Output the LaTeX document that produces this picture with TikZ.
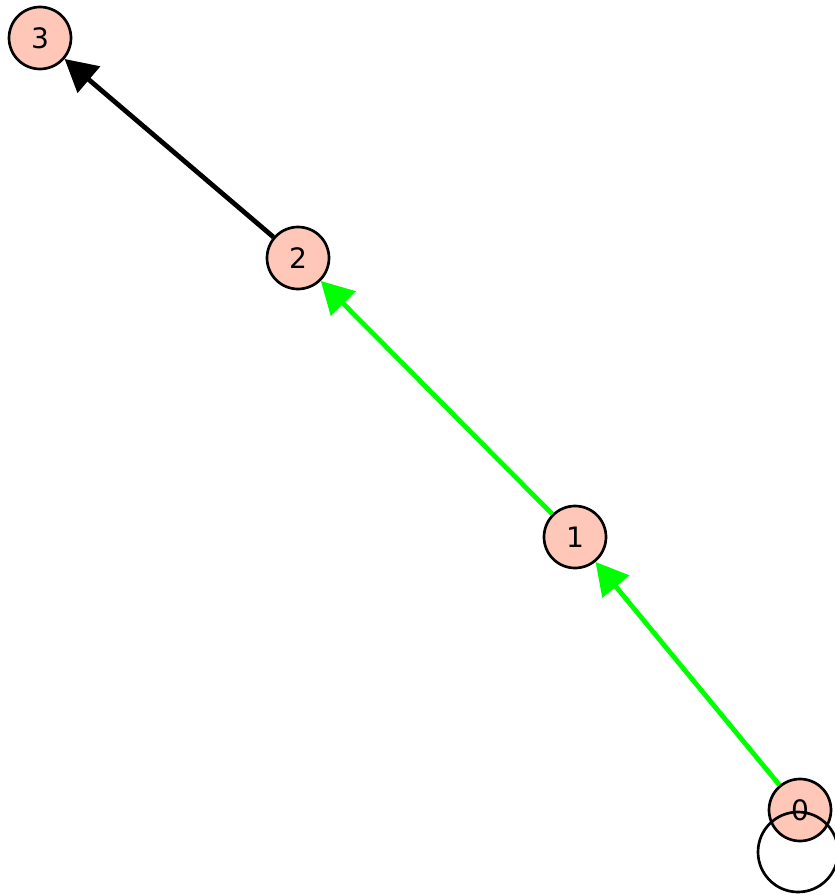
\documentclass[tikz,border=0pt]{standalone}
\usepackage{fontspec}
\setmainfont{DejaVu Sans}
\usetikzlibrary{arrows.meta}
\definecolor{vertexpink}{HTML}{FEC7B8}
\definecolor{edgegreen}{HTML}{00FF00}
\begin{document}
\begin{tikzpicture}[auto, line width=3.4pt, >={Triangle[length=0.8cm,width=0.85cm]},main node/.style={circle,draw,fill=vertexpink,line width=1.9pt,minimum size=1.55cm,inner sep=0pt}]%
\useasboundingbox (0,0) rectangle (20.875,-22.375);
\begin{scope}[every node/.style={font=\fontsize{20}{24}\selectfont}]
\node[main node] (v3) at (1.0,-0.95) {3};
\node[main node] (v2) at (7.45,-6.45) {2};
\node[main node] (v1) at (14.375,-13.425) {1};
\node[main node] (v0) at (20.0,-20.25) {0};
\coordinate (l0) at (19.95,-21.3);
\end{scope}
\begin{scope}
\draw[->,edgegreen] (v0) edge node{} (v1);
\draw[->,edgegreen] (v1) edge node{} (v2);
\draw[->] (v2) edge node{} (v3);
\draw[line width=1.9pt] (l0) circle [radius=1.0cm];
\end{scope}
\end{tikzpicture}
\end{document}
